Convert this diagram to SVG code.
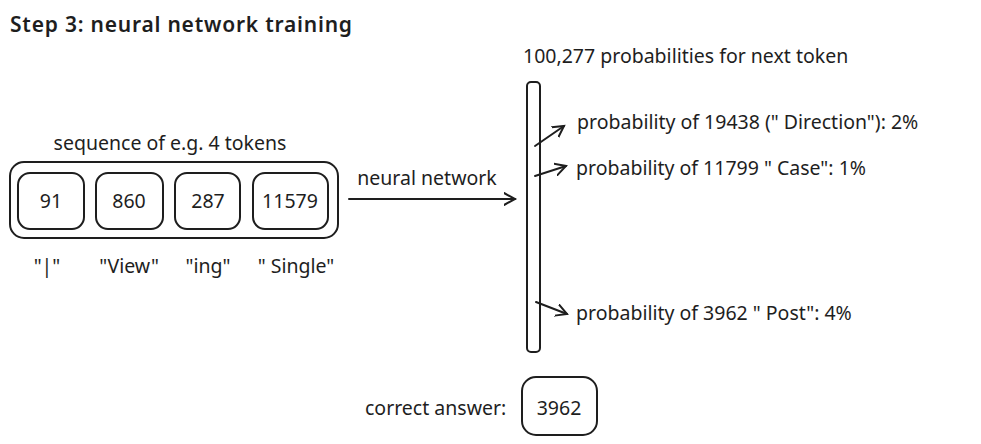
<svg xmlns="http://www.w3.org/2000/svg" width="981" height="444" viewBox="0 0 981 444">
<defs>
<style>
.t{font-family:"Noto Sans","Liberation Sans",sans-serif;font-size:19.5px;fill:#1e1e1e}
.c{text-anchor:middle}
.b{fill:none;stroke:#1e1e1e;stroke-width:2}
.l{fill:none;stroke:#1e1e1e;stroke-width:2;stroke-linecap:round}
</style>
<marker id="ah" markerWidth="14" markerHeight="14" refX="11" refY="7" orient="auto" markerUnits="userSpaceOnUse">
<path d="M0,1 L11,7 L0,13" fill="none" stroke="#1e1e1e" stroke-width="2" stroke-linecap="round"/>
</marker>
</defs>
<rect width="981" height="444" fill="#ffffff"/>
<text x="10" y="32" style="font-family:'Noto Sans',sans-serif;font-size:21px;font-weight:600;fill:#1e1e1e" textLength="342">Step 3: neural network training</text>
<g id="sequence">
<text class="t c" x="170" y="150">sequence of e.g. 4 tokens</text>
<rect class="b" x="10" y="162" width="328" height="76" rx="14"/>
</g>
<g id="tok91"><rect class="b" x="18" y="173" width="66" height="56" rx="12"/><text class="t c" x="51" y="208">91</text><text class="t c" x="47" y="273">"|"</text></g>
<g id="tok860"><rect class="b" x="96" y="173" width="67" height="56" rx="12"/><text class="t c" x="129" y="208">860</text><text class="t c" x="129" y="273">"View"</text></g>
<g id="tok287"><rect class="b" x="175" y="173" width="65" height="56" rx="12"/><text class="t c" x="208" y="208">287</text><text class="t c" x="208" y="273">"ing"</text></g>
<g id="tok11579"><rect class="b" x="253" y="173" width="75" height="56" rx="12"/><text class="t c" x="290" y="208">11579</text><text class="t c" x="296" y="273">" Single"</text></g>
<g id="output">
<text class="t" x="523" y="63">100,277 probabilities for next token</text>
<rect class="b" x="527" y="82" width="13" height="270" rx="4"/>
</g>
<g id="prob1"><text class="t" x="577" y="129">probability of 19438 (" Direction"): 2%</text></g>
<g id="prob2"><text class="t" x="576" y="175">probability of 11799 " Case": 1%</text></g>
<g id="prob3"><text class="t" x="576" y="320">probability of 3962 " Post": 4%</text></g>
<g id="answer">
<text class="t" x="365" y="415">correct answer:</text>
<rect class="b" x="522" y="377" width="75" height="58" rx="14"/>
<text class="t c" x="559" y="415">3962</text>
</g>
<g id="connectors">
<line class="l" x1="349" y1="199" x2="515" y2="199" marker-end="url(#ah)"/>
<text class="t c" x="427" y="185">neural network</text>
<line class="l" x1="535" y1="146" x2="564" y2="126" marker-end="url(#ah)"/>
<line class="l" x1="535" y1="176" x2="566" y2="166" marker-end="url(#ah)"/>
<line class="l" x1="536" y1="302" x2="567" y2="314" marker-end="url(#ah)"/>
</g>
</svg>
